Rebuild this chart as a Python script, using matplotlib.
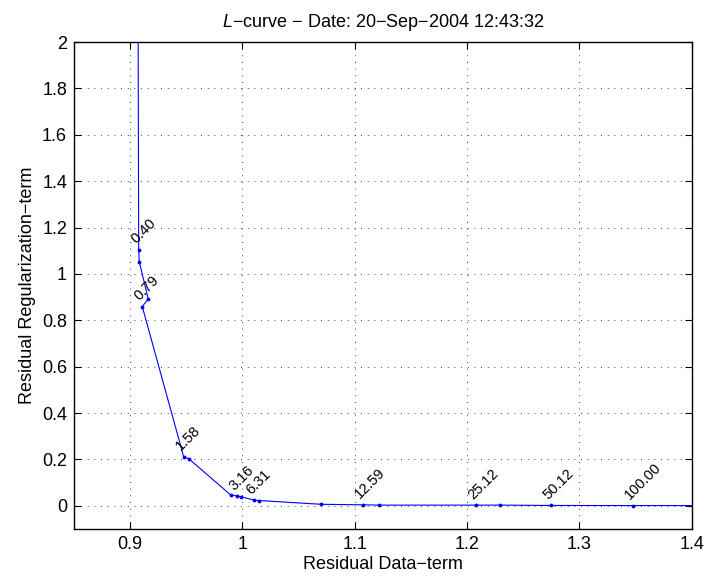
import matplotlib
matplotlib.use('Agg')
import matplotlib.pyplot as plt

plt.rcParams['font.family'] = ['Liberation Sans', 'DejaVu Sans']
plt.rcParams['mathtext.fontset'] = 'custom'
plt.rcParams['mathtext.it'] = 'Liberation Sans:italic'
plt.rcParams['mathtext.rm'] = 'Liberation Sans'

# residual data-term (x) and regularization-term (y) along the L-curve
resData = [0.9066, 0.9076, 0.9081, 0.9161, 0.9108, 0.9476, 0.9523, 0.9894,
           0.9953, 0.9983, 1.0101, 1.0146, 1.0701, 1.1074, 1.1216, 1.2077,
           1.2296, 1.2750, 1.3476, 1.4500]
resReg = [3.0, 1.103, 1.053, 0.892, 0.859, 0.2125, 0.2026, 0.0474,
          0.0418, 0.0401, 0.0246, 0.0228, 0.0065, 0.0043, 0.0030, 0.0030,
          0.0030, 0.0015, 0.0010, 0.0008]

# which points get a lambda label
labelIdx = [1, 4, 5, 8, 10, 13, 15, 17, 18]
labelTxt = ['0.40', '0.79', '1.58', '3.16', '6.31', '12.59', '25.12', '50.12', '100.00']


def main():
    fig = plt.figure(figsize=(7.08, 5.81), dpi=100)
    ax = fig.add_axes([0.1045, 0.0895, 0.8725, 0.8382])

    ax.plot(resData, resReg, 'b.-', lw=0.8, ms=3.5)

    for i, t in zip(labelIdx, labelTxt):
        ax.annotate(t, (resData[i], resReg[i]), xytext=(-2, 4),
                    textcoords='offset points', rotation=45,
                    rotation_mode='anchor', ha='left', va='baseline',
                    fontsize=10.5)

    ax.set_xlim(0.85, 1.4)
    ax.set_ylim(-0.1, 2)
    ax.set_xticks([0.9, 1.0, 1.1, 1.2, 1.3, 1.4])
    ax.set_xticklabels(['0.9', '1', '1.1', '1.2', '1.3', '1.4'])
    ax.set_yticks([0, 0.2, 0.4, 0.6, 0.8, 1, 1.2, 1.4, 1.6, 1.8, 2])
    ax.set_yticklabels(['0', '0.2', '0.4', '0.6', '0.8', '1', '1.2', '1.4',
                        '1.6', '1.8', '2'])
    ax.grid(True, color='k', linestyle=(0, (1, 7)), lw=0.6)
    ax.tick_params(direction='in', top=True, right=True, labelsize=13,
                   length=5, width=0.8, pad=5)
    for s in ax.spines.values():
        s.set_linewidth(1.0)

    ax.set_xlabel('Residual Data\u2212term', fontsize=13, labelpad=2)
    ax.set_ylabel('Residual Regularization\u2212term', fontsize=13, labelpad=4)
    ax.set_title('$L$\u2212curve \u2212 Date: 20\u2212Sep\u22122004 12:43:32',
                 fontsize=13, pad=11)

    plt.savefig('out.png', dpi=100)
    plt.clf()


if __name__ == "__main__":
    main()
